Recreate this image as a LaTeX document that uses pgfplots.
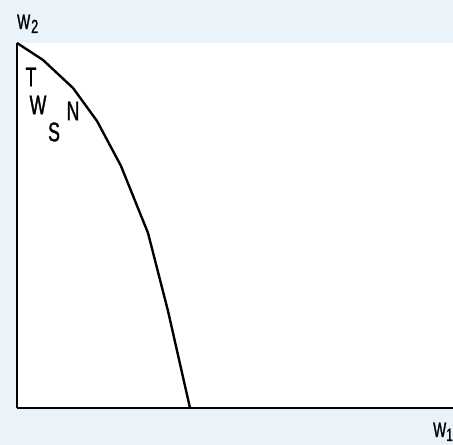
\documentclass[border=0pt]{standalone}
\usepackage{fontspec}
\setmainfont{Liberation Sans}[FakeStretch=0.66, FakeBold=1.2]
\usepackage{pgfplots}
\pgfplotsset{compat=1.18}
\definecolor{bgBlue}{RGB}{234,242,250}
\begin{document}
\begin{tikzpicture}[x=1bp,y=1bp]
\clip (0,0) rectangle (453,445);
\fill[bgBlue] (0,0) rectangle (453,445);
\begin{axis}[
  at={(17bp,37bp)}, anchor=origin,
  scale only axis, width=436bp, height=365bp,
  xmin=0, xmax=436, ymin=0, ymax=365,
  axis x line*=bottom, axis y line*=left,
  axis line style={-, black, line width=3pt},
  axis background/.style={fill=white},
  ticks=none,
  clip=false,
]
\addplot[black, line width=2.4pt, line join=round] coordinates {
  (0,365) (26,348) (56,320) (80,287) (104,242) (131,175) (151,97) (173,0)};
\node[font=\fontsize{27}{27}\selectfont] at (axis cs:14,331) {T};
\node[font=\fontsize{27}{27}\selectfont] at (axis cs:21,303) {W};
\node[font=\fontsize{27}{27}\selectfont] at (axis cs:37,276) {S};
\node[font=\fontsize{27}{27}\selectfont] at (axis cs:56,297) {N};
\node[font=\fontsize{21}{21}\selectfont, anchor=base west, inner sep=0pt] at (axis cs:0,379) {W\hspace{1bp}\raisebox{-4bp}{\fontsize{19}{19}\selectfont 2}};
\node[font=\fontsize{21}{21}\selectfont, anchor=base west, inner sep=0pt] at (axis cs:416,-29) {W\raisebox{-4bp}{\fontsize{18}{18}\selectfont 1}};
\end{axis}
\end{tikzpicture}
\end{document}
